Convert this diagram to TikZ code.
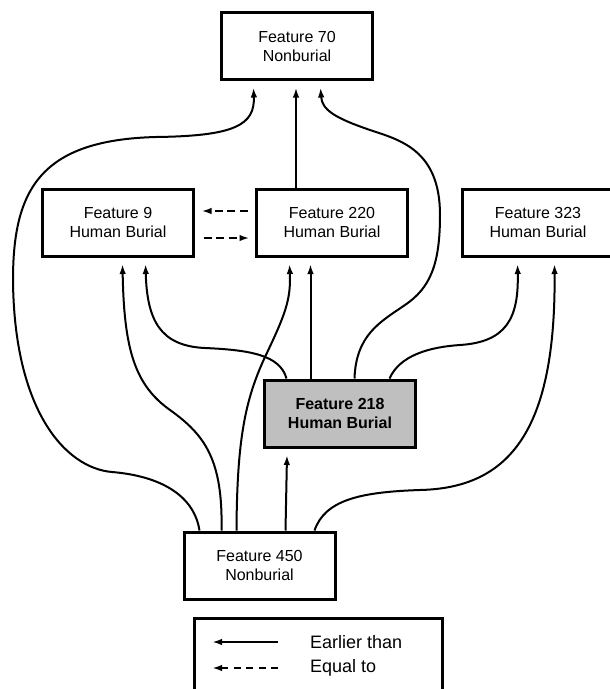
\documentclass[tikz,border=0pt]{standalone}
\usepackage{fontspec}
\setmainfont{Liberation Sans}
\usetikzlibrary{arrows.meta}
\definecolor{burialgray}{gray}{0.75}
\begin{document}
\begin{tikzpicture}[x=1pt,y=-1pt,
  feature/.style={draw,line width=3pt,rectangle,minimum width=151pt,minimum height=67pt,
    inner sep=0pt,align=center,font=\fontsize{16}{19}\selectfont},
  link/.style={line width=2pt,-{Latex[length=10pt,width=6.5pt]}},
  same/.style={link,dash pattern=on 8pt off 4.5pt},
  keytext/.style={anchor=west,inner sep=0pt,font=\fontsize{18}{21}\selectfont}]
  \useasboundingbox (0,0) rectangle (610,689);
  \fill[white] (0,0) rectangle (610,689);
  \clip (0,0) rectangle (610,689);

  % features
  \node[feature] (F70)  at (297,46)    {Feature 70\\Nonburial};
  \node[feature] (F9)   at (118,222.5) {Feature 9\\Human Burial};
  \node[feature] (F220) at (332,222.5) {Feature 220\\Human Burial};
  \node[feature] (F323) at (538,222.5) {Feature 323\\Human Burial};
  \node[feature,fill=burialgray,font=\fontsize{16}{19}\selectfont\bfseries]
        (F218) at (340,413.5) {Feature 218\\Human Burial};
  \node[feature] (F450) at (259.5,565.5) {Feature 450\\Nonburial};

  % straight relations
  \draw[link] ([xshift=-36pt]F220.north) -- ([xshift=-1pt,yshift=-6.5pt]F70.south);
  \draw[link] ([xshift=103pt]F450.north west) -- ([xshift=-53pt,yshift=-6.5pt]F218.south);
  \draw[link] ([xshift=47.5pt]F218.north west) -- ([xshift=55.5pt,yshift=-6.5pt]F220.south west);

  % equal-to relations
  \draw[same] ([xshift=-7.5pt,yshift=11.5pt]F220.west) -- ([xshift=6.5pt,yshift=11.5pt]F9.east);
  \draw[same] ([xshift=8.5pt,yshift=-15.5pt]F9.east) -- ([xshift=-5.5pt,yshift=-15.5pt]F220.west);

  % F450 -> F70 around the left side
  \draw[link] ([xshift=17pt]F450.north west)
      .. controls (194,495) and (160,476) .. (112,472)
      .. controls (65,468) and (14,410) .. (13,280)
      .. controls (13,190) and (40,140) .. (156,137)
      .. controls (235,136) and (255,125) .. ([xshift=33.5pt,yshift=-6.5pt]F70.south west);

  % F450 -> F9
  \draw[link] ([xshift=39pt]F450.north west)
      .. controls (223,460) and (205,435) .. (170,410)
      .. controls (135,385) and (124,350) .. ([xshift=81.5pt,yshift=-6.5pt]F9.south west);

  % F218 -> F9
  \draw[link] ([xshift=23.5pt]F218.north west)
      .. controls (280,355) and (250,350) .. (205,348)
      .. controls (160,346) and (147,320) .. ([xshift=104.5pt,yshift=-6.5pt]F9.south west);

  % F450 -> F220
  \draw[link] ([xshift=54pt]F450.north west)
      .. controls (237,440) and (245,400) .. (265,357)
      .. controls (285,315) and (291,300) .. ([xshift=34.5pt,yshift=-6.5pt]F220.south west);

  % F218 -> F70 around the right of F220
  \draw[link] ([xshift=91.5pt]F218.north west)
      .. controls (356,335) and (380,322) .. (405,305)
      .. controls (430,288) and (440,265) .. (440,215)
      .. controls (440,150) and (400,140) .. (370,130)
      .. controls (335,118) and (322,110) .. ([xshift=100.5pt,yshift=-6.5pt]F70.south west);

  % F218 -> F323
  \draw[link] ([xshift=126.5pt]F218.north west)
      .. controls (400,355) and (430,347) .. (460,345)
      .. controls (505,342) and (519,320) .. ([xshift=56.5pt,yshift=-6.5pt]F323.south west);

  % F450 -> F323
  \draw[link] ([xshift=132pt]F450.north west)
      .. controls (325,500) and (360,492) .. (420,490)
      .. controls (510,488) and (556,430) .. ([xshift=93.5pt,yshift=-6.5pt]F323.south west);

  % key
  \node[draw,line width=3pt,minimum width=248pt,minimum height=100pt,inner sep=0pt]
        (key) at (318.5,668.5) {};
  \coordinate (k1a) at (278,642);
  \coordinate (k1b) at (212,642);
  \coordinate (k2a) at (278,668);
  \coordinate (k2b) at (212,668);
  \draw[link] (k1a) -- (k1b);
  \draw[link,dash pattern=on 7pt off 5.5pt] (k2a) -- (k2b);
  \node[keytext] (t1) at (310,642) {Earlier than};
  \node[keytext] (t2) at (310,668) {Equal to};
\end{tikzpicture}
\end{document}
